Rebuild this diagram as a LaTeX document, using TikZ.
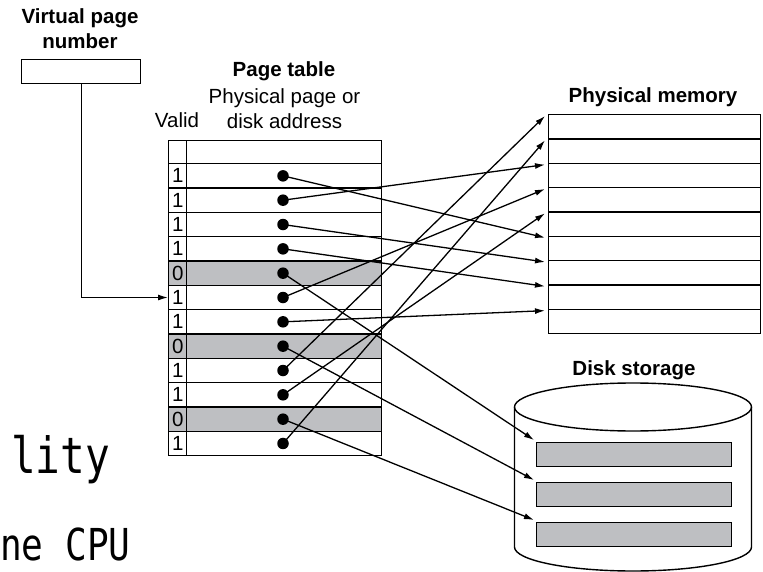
\documentclass[tikz,border=0pt]{standalone}
\usepackage{fontspec}
\setmainfont{Liberation Sans}
\newfontfamily\slidefont[FakeStretch=0.82]{DejaVu Sans Mono}
\usepackage{tikz}
\usetikzlibrary{arrows.meta,calc,backgrounds}
\definecolor{slotgrey}{RGB}{190,191,194}
\tikzset{
  box/.style={draw, line width=1.4pt, inner sep=0pt, anchor=north west},
  entry/.style={box, minimum width=195pt, minimum height=24.33pt},
  validcell/.style={box, minimum width=18pt, minimum height=24.33pt},
  memslot/.style={box, minimum width=212pt, minimum height=24.33pt},
  diskslot/.style={box, fill=slotgrey, minimum width=195pt, minimum height=24pt},
  ptr/.style={circle, fill, inner sep=0pt, minimum size=11.5pt},
  link/.style={line width=1.3pt, -{Latex[length=10pt,width=6pt]}},
  bodytext/.style={font=\fontsize{20.5}{25}\selectfont, inner sep=0pt},
  headtext/.style={font=\bfseries\fontsize{20.5}{25}\selectfont, inner sep=0pt},
}

\begin{document}
\begin{tikzpicture}[x=1pt,y=-1pt]
\useasboundingbox (0,0) rectangle (763,572);

\node[headtext, align=center, anchor=north] (vpntitle) at (80,8) {Virtual page\\number};
\node[box, minimum width=119pt, minimum height=24pt] (vpn) at (21,59) {};

\node[headtext, anchor=base] (pttitle) at (284,77) {Page table};
\node[bodytext, align=center, anchor=north] (ptcol) at (284.5,88) {Physical page or\\disk address};
\node[bodytext, anchor=base] (validtitle) at (177,128) {Valid};

\node[validcell, minimum height=23pt] (v0) at (168,140) {};
\node[entry, minimum height=23pt] (r0) at (186,140) {};
\foreach \v [count=\i] in {1,1,1,1,0,1,1,0,1,1,0,1}{
  \node[validcell, bodytext] (v\i) at (168,163+24.33*\i-24.33) {\v};
  \node[entry] (r\i) at (186,163+24.33*\i-24.33) {};
  \node[ptr] (p\i) at ($(r\i.west)+(97,0)$) {};
}
\begin{scope}[on background layer]
\foreach \i in {5,8,11}
  \fill[slotgrey] (v\i.north west) rectangle (r\i.south east);
\end{scope}

\node[headtext, anchor=base] (memtitle) at (653,103) {Physical memory};
\foreach \k in {1,...,9}
  \node[memslot] (s\k) at (548,114+24.33*\k-24.33) {};

\foreach \i/\k in {9/1,12/2,2/3,6/4,10/5,1/6,3/7,4/8,7/9}
  \draw[link] (p\i.center) -- ($(s\k.north west)+(-3,2)$);

\node[headtext, anchor=base] (disktitle) at (634,375) {Disk storage};
\filldraw[fill=white, line width=1.4pt] (514.5,407) -- (514.5,547) arc[start angle=180, end angle=360, x radius=118.5pt, y radius=24pt] -- (751.5,407);
\draw[line width=1.4pt] (633,407) ellipse [x radius=118.5pt, y radius=24pt];
\foreach \j in {1,2,3}
  \node[diskslot] (k\j) at (536,442+40*\j-40) {};

\foreach \i/\j in {5/1,8/2,11/3}
  \draw[link] (p\i.center) -- ($(k\j.north west)+(-2,-2)$);

\draw[link] (vpn.south) |- (v6.west);

\node[anchor=base west, inner sep=0pt, font=\slidefont\fontsize{50}{50}\selectfont] (frag1) at (11,473) {lity};
\node[anchor=base west, inner sep=0pt, font=\slidefont\fontsize{44}{44}\selectfont] (frag2) at (0,560) {ne CPU};
\end{tikzpicture}
\end{document}
